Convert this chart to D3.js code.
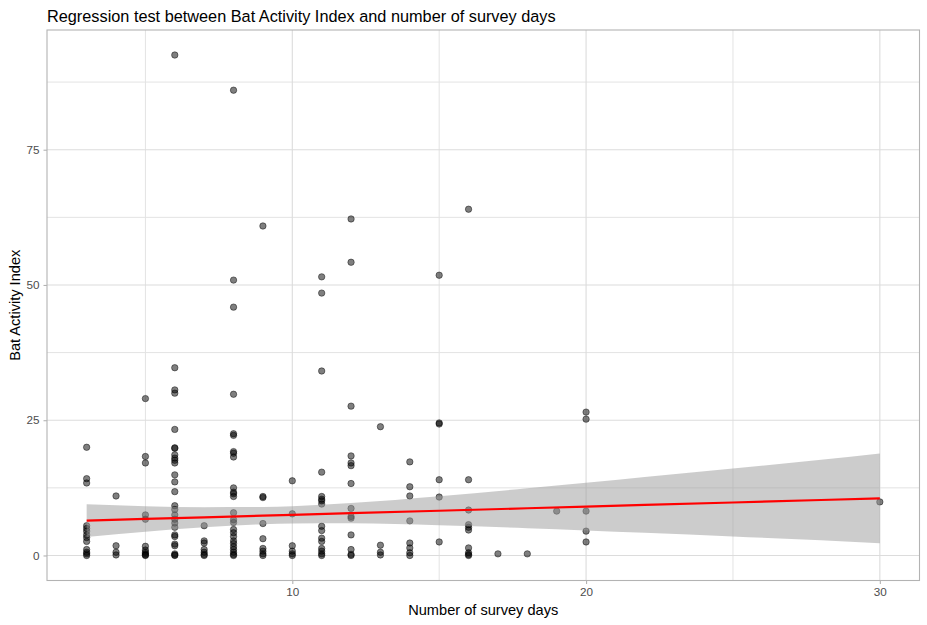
<!DOCTYPE html>
<html>
<head>
<meta charset="utf-8">
<script src="https://cdn.jsdelivr.net/npm/d3@7"></script>
<style>
  html, body { margin: 0; padding: 0; background: #ffffff; }
  svg { display: block; font-family: "Liberation Sans", Arial, sans-serif; }
</style>
</head>
<body>
<svg id="chart" width="927" height="625"></svg>
<script>
// ---------------- DATA ----------------
const chartTitle = "Regression test between Bat Activity Index and number of survey days";
const xTitle = "Number of survey days";
const yTitle = "Bat Activity Index";

const xTicks = [10, 20, 30];
const yTicks = [0, 25, 50, 75];

// survey days (x) and the Bat Activity Index values observed at each
const surveyDays = [3, 4, 5, 6, 7, 8, 9, 10, 11, 12, 13, 14, 15, 16, 17, 18, 19, 20, 30];
const batIndexByDay = [
  [20.0, 14.2, 13.4, 5.5, 5.0, 4.5, 3.8, 3.3, 2.6, 1.1, 0.6, 0.3, 0.0],
  [11.0, 1.8, 0.6, 0.1],
  [29.0, 18.3, 17.1, 7.5, 6.7, 1.7, 1.0, 0.6, 0.3, 0.1, 0.0],
  [92.5, 34.7, 30.6, 30.0, 23.3, 19.9, 19.8, 18.6, 18.0, 17.6, 17.1, 14.9, 13.6, 11.8, 9.2, 8.5, 7.5, 6.7, 6.0, 5.2, 3.8, 3.5, 2.1, 1.8, 0.3, 0.1, 0.0],
  [5.5, 2.7, 2.3, 1.1, 0.6, 0.2, 0.0],
  [86.0, 50.9, 45.9, 29.8, 22.5, 22.2, 19.2, 18.9, 18.2, 12.5, 11.7, 11.4, 10.9, 7.9, 6.6, 6.1, 4.8, 4.2, 3.5, 2.7, 2.2, 1.6, 1.1, 0.6, 0.2, 0.0],
  [60.9, 10.9, 10.7, 5.9, 3.1, 1.3, 0.8, 0.3, 0.0],
  [13.8, 7.7, 1.8, 0.8, 0.3, 0.0],
  [51.5, 48.5, 34.1, 15.4, 10.9, 10.4, 10.1, 9.5, 5.4, 4.6, 3.2, 2.6, 1.3, 0.8, 0.3, 0.0],
  [62.2, 54.2, 27.6, 18.4, 17.1, 16.6, 13.3, 8.7, 7.2, 6.9, 3.8, 1.1, 0.2, 0.0],
  [23.8, 1.9, 0.6, 0.1],
  [17.3, 12.7, 11.0, 6.4, 2.3, 1.4, 0.5, 0.0],
  [51.8, 24.5, 24.3, 14.0, 10.8, 2.5],
  [64.0, 14.0, 8.4, 5.7, 5.2, 4.7, 1.4, 0.5, 0.2, 0.0],
  [0.3],
  [0.3],
  [8.2],
  [26.5, 25.2, 8.2, 4.5, 2.5],
  [9.9]
];

// linear fit and 95% confidence band
const fitX     = [3,    5,    7,    9,    10,   12,   15,    18,    20,    22,    25,    28,    30];
const fitY     = [6.45, 6.75, 7.06, 7.36, 7.51, 7.82, 8.27,  8.73,  9.03,  9.34,  9.79,  10.25, 10.55];
const fitLower = [3.40, 4.38, 5.20, 5.77, 5.92, 5.96, 5.59,  5.04,  4.63,  4.18,  3.50,  2.82,  2.25];
const fitUpper = [9.45, 9.12, 8.92, 8.95, 9.10, 9.68, 10.95, 12.42, 13.43, 14.50, 16.08, 17.68, 18.85];

// ---------------- LAYOUT ----------------
const W = 927, H = 625;
const panel = { left: 47, right: 919.5, top: 30, bottom: 580.5 };

const points = [];
surveyDays.forEach((d, i) => batIndexByDay[i].forEach(v => points.push({ x: d, y: v })));

function expand(ext, f) {
  const r = ext[1] - ext[0];
  return [ext[0] - r * f, ext[1] + r * f];
}
const xDom = expand(d3.extent(points.concat(fitX.map(x => ({x}))), p => p.x), 0.05);
const yAll = points.map(p => p.y).concat(fitLower, fitUpper);
const yDom = expand(d3.extent(yAll), 0.05);

const x = d3.scaleLinear().domain(xDom).range([panel.left, panel.right]);
const y = d3.scaleLinear().domain(yDom).range([panel.bottom, panel.top]);

const svg = d3.select("#chart");

// gridlines
const xMinor = [5, 15, 25];
const yMinor = [12.5, 37.5, 62.5, 87.5];
const grid = svg.append("g");
grid.selectAll(".xminor").data(xMinor).enter().append("line")
  .attr("x1", d => x(d)).attr("x2", d => x(d))
  .attr("y1", panel.top).attr("y2", panel.bottom)
  .attr("stroke", "#e3e3e3").attr("stroke-width", 1);
grid.selectAll(".yminor").data(yMinor).enter().append("line")
  .attr("y1", d => y(d)).attr("y2", d => y(d))
  .attr("x1", panel.left).attr("x2", panel.right)
  .attr("stroke", "#e3e3e3").attr("stroke-width", 1);
grid.selectAll(".xmajor").data(xTicks).enter().append("line")
  .attr("x1", d => x(d)).attr("x2", d => x(d))
  .attr("y1", panel.top).attr("y2", panel.bottom)
  .attr("stroke", "#dcdcdc").attr("stroke-width", 1.1);
grid.selectAll(".ymajor").data(yTicks).enter().append("line")
  .attr("y1", d => y(d)).attr("y2", d => y(d))
  .attr("x1", panel.left).attr("x2", panel.right)
  .attr("stroke", "#dcdcdc").attr("stroke-width", 1.1);

// points
svg.append("g").selectAll("circle").data(points).enter().append("circle")
  .attr("cx", d => x(d.x)).attr("cy", d => y(d.y))
  .attr("r", 3.2)
  .attr("fill", "rgba(0,0,0,0.5)")
  .attr("stroke", "rgba(0,0,0,0.5)")
  .attr("stroke-width", 0.9);

// confidence band
const band = fitX.map((v, i) => ({ x: v, lo: fitLower[i], hi: fitUpper[i], f: fitY[i] }));
svg.append("path").datum(band)
  .attr("d", d3.area().x(d => x(d.x)).y0(d => y(d.lo)).y1(d => y(d.hi)).curve(d3.curveMonotoneX))
  .attr("fill", "#999999").attr("fill-opacity", 0.5);

// fit line
svg.append("path").datum(band)
  .attr("d", d3.line().x(d => x(d.x)).y(d => y(d.f)))
  .attr("fill", "none").attr("stroke", "#ff0000").attr("stroke-width", 2.2);

// panel border
svg.append("rect")
  .attr("x", panel.left).attr("y", panel.top)
  .attr("width", panel.right - panel.left).attr("height", panel.bottom - panel.top)
  .attr("fill", "none").attr("stroke", "#b3b3b3").attr("stroke-width", 1.1);

// axes
const xAxis = d3.axisBottom(x).tickValues(xTicks).tickSize(3.5).tickPadding(4);
const gx = svg.append("g").attr("transform", `translate(0,${panel.bottom})`).call(xAxis);
const yAxis = d3.axisLeft(y).tickValues(yTicks).tickSize(3.5).tickPadding(4);
const gy = svg.append("g").attr("transform", `translate(${panel.left},0)`).call(yAxis);
[gx, gy].forEach(g => {
  g.select(".domain").remove();
  g.selectAll(".tick line").attr("stroke", "#b3b3b3").attr("stroke-width", 1.1);
  g.selectAll(".tick text").attr("fill", "#4d4d4d")
    .style("font-size", "11.7px").style("font-family", '"Liberation Sans", Arial, sans-serif');
});

// titles
svg.append("text")
  .attr("x", panel.left).attr("y", 21.5)
  .attr("fill", "#000").style("font-size", "16.3px")
  .text(chartTitle);
svg.append("text")
  .attr("x", (panel.left + panel.right) / 2).attr("y", 615)
  .attr("text-anchor", "middle").attr("fill", "#000").style("font-size", "14.6px")
  .text(xTitle);
svg.append("text")
  .attr("transform", `translate(20,${(panel.top + panel.bottom) / 2}) rotate(-90)`)
  .attr("text-anchor", "middle").attr("fill", "#000").style("font-size", "14.6px")
  .text(yTitle);
</script>
</body>
</html>
